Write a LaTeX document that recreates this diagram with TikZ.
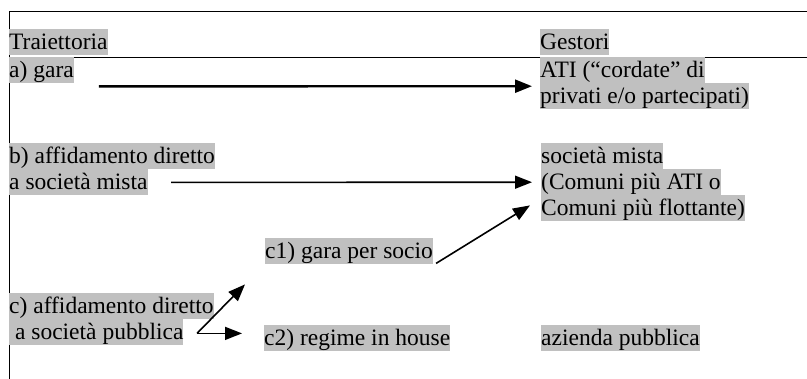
\documentclass[tikz,border=0pt]{standalone}
\usepackage{fontspec}
\setmainfont{Liberation Serif}
\usepackage{tikz}
\usetikzlibrary{arrows.meta}
\usetikzlibrary{calc}
\definecolor{hlgray}{RGB}{192,192,192}
\setlength{\fboxsep}{0pt}
\newcommand{\hlstrut}{\rule[-6pt]{0pt}{26pt}}
\newcommand{\hl}[1]{\colorbox{hlgray}{\hlstrut #1}}

\begin{document}
\begin{tikzpicture}[x=1pt,y=-1pt,
    lbl/.style={anchor=north west,inner sep=0pt,align=left,
      font=\fontsize{23.5}{26}\selectfont},
    rule/.style={line width=0.8pt},
    arr/.style={line width=1.6pt,-{Triangle[length=17pt,width=13pt]}}]
      \useasboundingbox (0,0) rectangle (807,379);
      % frame of the table
      \draw[rule] (9,379) -- (9,11) -- (807,11);
      \draw[rule] (9,57) -- (807,57);
      % headings
      \node[lbl] (traj) at (9,29) {\hl{Traiettoria}};
      \node[lbl] (gest) at (540,29) {\hl{Gestori}};
      % rows
      \node[lbl] (gara) at (9,57) {\hl{a) gara}};
      \node[lbl] (ati) at (540,57) {\hl{ATI (“cordate” di}\\\hl{privati e/o partecipati)}};
      \node[lbl] (affb) at (9,143) {\hl{b) affidamento diretto}\\\hl{a società mista}};
      \node[lbl] (mista) at (541,143) {\hl{società mista}\\\hl{(Comuni più ATI o}\\\hl{Comuni più flottante)}};
      \node[lbl] (socio) at (265,238) {\hl{c1) gara per socio}};
      \node[lbl] (affc) at (9,293) {\hl{c) affidamento diretto}\\\hl{\ a società pubblica}};
      \node[lbl] (house) at (264,325) {\hl{c2) regime in house}};
      \node[lbl] (azienda) at (541,325) {\hl{azienda pubblica}};
      % arrows
      \draw[arr,line width=2.4pt] ($(gara.south east)+(25,3)$) -- ($(ati.west)+(-8,3)$);
      \draw[arr] ($(affb.south west)+(162,-13)$) -- ($(mista.west)+(-9,0)$);
      \draw[arr] ($(socio.south east)+(3,-1)$) -- ($(mista.south west)+(-11,-16)$);
      \coordinate (fork) at ($(affc.south west)+(188,-12)$);
      \draw[arr] (fork) -- ($(socio.south west)+(-20,20)$);
      \draw[arr] (fork) -- ($(fork -| house.west)+(-22,0)$);
\end{tikzpicture}
\end{document}
